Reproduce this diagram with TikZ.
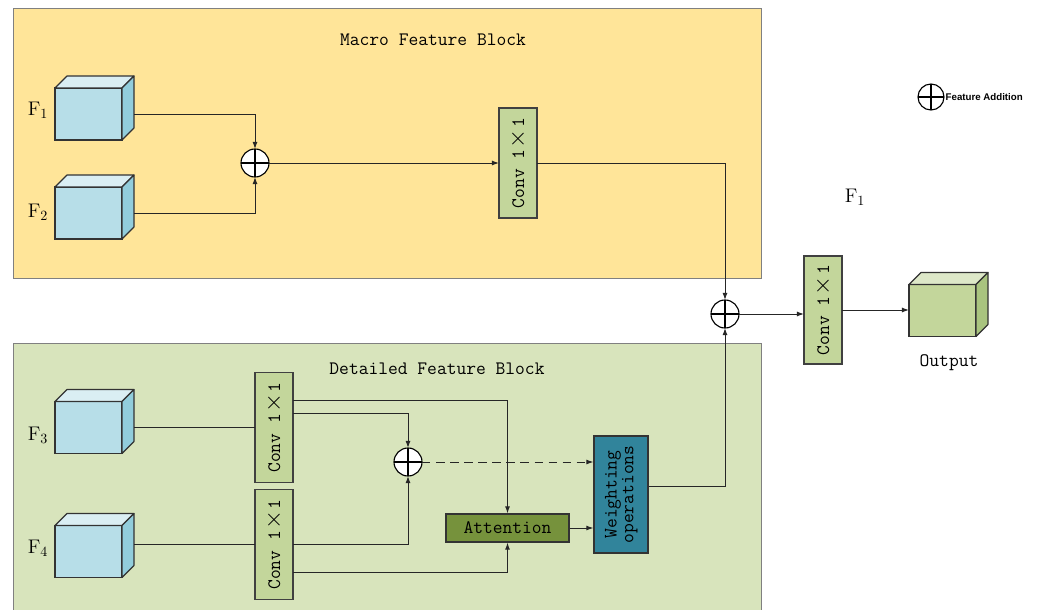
\documentclass[tikz,border=0pt]{standalone}
\usepackage{fontspec}
\newfontfamily\legendfont{Liberation Sans}
\usetikzlibrary{arrows.meta,calc,positioning}

\definecolor{macrobg}{HTML}{FFE599}
\definecolor{detailbg}{HTML}{D8E4BC}
\definecolor{convgreen}{HTML}{C3D69B}
\definecolor{attgreen}{HTML}{76923C}
\definecolor{weightblue}{HTML}{31849B}
\definecolor{cubefront}{HTML}{B7DEE8}
\definecolor{cubetop}{HTML}{DAEEF3}
\definecolor{cubeside}{HTML}{92CDDC}
\definecolor{outfront}{HTML}{C3D69B}
\definecolor{outtop}{HTML}{DDE8C8}
\definecolor{outside}{HTML}{A9C47F}

% top and right faces of a cube whose front face is node #1
\newcommand{\cubeback}[3]{%
  \filldraw[fill=#2, draw=black!80, line width=0.8pt, line join=round]
    (#1.north west) -- ++(12,-12) -- ++(67,0) -- (#1.north east) -- cycle;
  \filldraw[fill=#3, draw=black!80, line width=0.8pt, line join=round]
    (#1.north east) -- ++(12,-12) -- ++(0,52) -- (#1.south east) -- cycle;
}
% the label inside the 1x1 convolution boxes
\newcommand{\convtext}{\rotatebox{90}{Conv 1\kern1pt{\fontsize{17}{17}\selectfont$\times$}\kern1pt 1}}

\begin{document}
\begin{tikzpicture}[
  x=0.025cm, y=-0.025cm,
  block/.style={draw=black!50, line width=0.6pt},
  cube/.style={draw=black!80, line width=0.8pt, minimum width=1.675cm, minimum height=1.3cm, inner sep=0pt, outer sep=0pt},
  conv/.style={draw=black!75, fill=convgreen, line width=0.8pt, minimum width=0.95cm, minimum height=2.75cm, inner sep=0pt, outer sep=0pt, font=\ttfamily\fontsize{13.5}{15}\selectfont},
  addnode/.style={circle, draw=black, fill=white, line width=0.8pt, minimum size=0.7cm, inner sep=0pt, outer sep=0pt,
    path picture={\draw[line width=0.8pt] (path picture bounding box.north) -- (path picture bounding box.south)
      (path picture bounding box.west) -- (path picture bounding box.east);}},
  title/.style={font=\ttfamily\fontsize{13.5}{15}\selectfont},
  flbl/.style={font=\fontsize{14}{16}\selectfont},
  wire/.style={line width=0.7pt, black!85},
  >={Latex[length=5pt,width=3.5pt]}
]
\useasboundingbox (0,0) rectangle (1038,610);

% === Blocks ===
\fill[white] (0,0) rectangle (1038,610);
\filldraw[block, fill=macrobg] (13,8) rectangle (761,278);
\filldraw[block, fill=detailbg] (13,343) rectangle (761,614);
\node[title] (macroT) at (433,40) {Macro Feature Block};
\node[title] (detailT) at (437,369) {Detailed Feature Block};

% === Macro Feature Block ===
\node[cube, fill=cubefront] (f1) at (88.5,114) {};
\cubeback{f1}{cubetop}{cubeside}
\node[cube, fill=cubefront] (f2) at (88.5,213) {};
\cubeback{f2}{cubetop}{cubeside}
\node[flbl] at (38,110) {F$_1$};
\node[flbl] at (38,212) {F$_2$};

\node[addnode] (addA) at (255,163) {};
\node[conv] (convM) at (518,163) {\convtext};

\draw[wire, ->] ($(f1.east)+(12,0)$) -| (addA.north);
\draw[wire, ->] ($(f2.east)+(12,0)$) -| (addA.south);
\draw[wire, ->] (addA.east) -- (convM.west);

% === Detailed Feature Block ===
\node[cube, fill=cubefront] (f3) at (88.5,427.5) {};
\cubeback{f3}{cubetop}{cubeside}
\node[cube, fill=cubefront] (f4) at (88.5,551.5) {};
\cubeback{f4}{cubetop}{cubeside}
\node[flbl] at (38,435) {F$_3$};
\node[flbl] at (38,548) {F$_4$};

\node[conv] (convA) at (274,427.5) {\convtext};
\node[conv] (convB) at (274,544.5) {\convtext};
\node[addnode] (addD) at (408,462) {};
\node[draw=black!80, fill=attgreen, line width=0.8pt, minimum width=3.075cm, minimum height=0.7cm, inner sep=0pt,
  font=\ttfamily\fontsize{13.5}{15}\selectfont] (att) at (507.5,528) {Attention};
\node[draw=black!80, fill=weightblue, line width=0.8pt, minimum width=1.35cm, minimum height=2.925cm, inner sep=0pt,
  font=\ttfamily\fontsize{13.5}{14}\selectfont] (wt) at (621,494.5)
  {\rotatebox{90}{\begin{tabular}{@{}c@{}}Weighting\\[-2pt]operations\end{tabular}}};

\draw[wire] ($(f3.east)+(12,0)$) -- (convA.west);
\draw[wire] ($(convB.west -| f4.east)+(12,0)$) -- (convB.west);
\draw[wire, ->] ($(convA.north east)!0.25!(convA.south east)$) -| (att.north);
\draw[wire, ->] ($(convA.north east)!0.37!(convA.south east)$) -| (addD.north);
\draw[wire, ->] (convB.east) -| (addD.south);
\draw[wire, ->] ($(convB.north east)!0.75!(convB.south east)$) -| (att.south);
\draw[wire, ->] (att.east) -- (att.east -| wt.west);
\draw[wire, ->, dash pattern=on 6pt off 4pt] (addD.east) -- (addD.east -| wt.west);

% === Fusion and output ===
\node[addnode] (addO) at (725,314) {};
\node[conv, minimum height=2.7cm] (convO) at (823,310) {\convtext};
\node[cube, fill=outfront] (outC) at (942.5,310.5) {};
\cubeback{outC}{outtop}{outside}
\node[title] (outT) at (949,363) {Output};
\node[flbl] at (855,197) {F$_1$};

\draw[wire, ->] (convM.east) -| (addO.north);
\draw[wire, ->] ($(wt.north east)!0.43!(wt.south east)$) -| (addO.south);
\draw[wire, ->] (addO.east) -- (addO.east -| convO.west);
\draw[wire, ->] (convO.east) -- (convO.east -| outC.west);

% === Legend ===
\node[addnode, minimum size=0.65cm] (addL) at (931,97) {};
\node[right=0pt of addL, inner sep=1pt, font=\legendfont\bfseries\fontsize{6.9}{8}\selectfont] (addLT) {Feature Addition};

\end{tikzpicture}
\end{document}
